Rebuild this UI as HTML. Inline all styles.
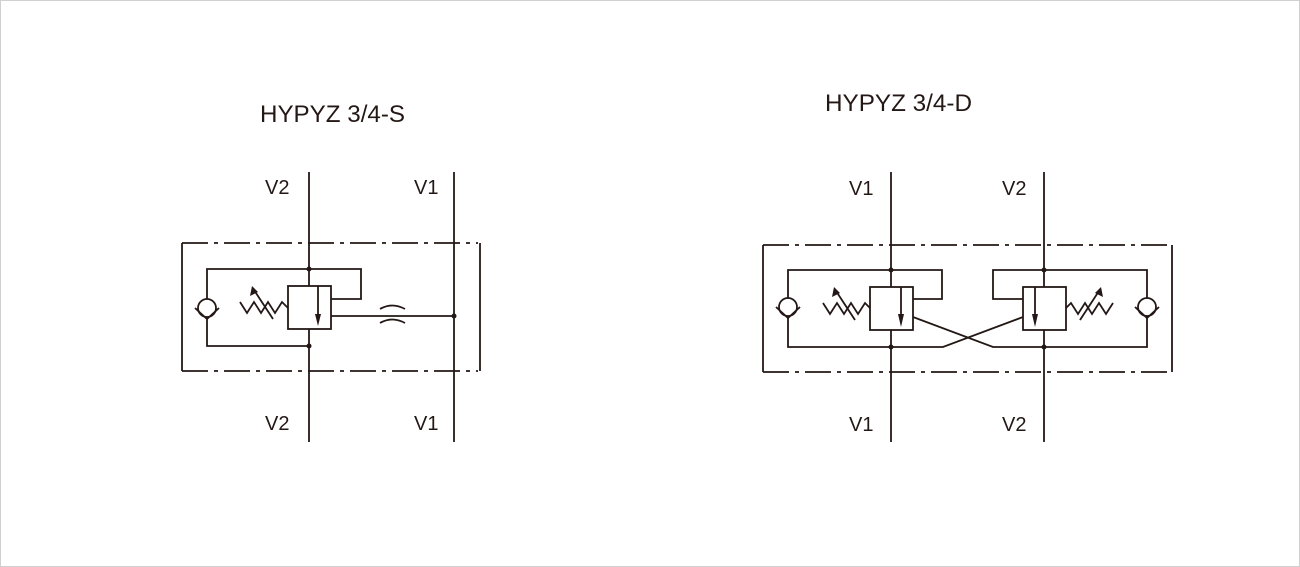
<!DOCTYPE html>
<html><head><style>html,body{margin:0;padding:0;background:#fff}svg{display:block}</style></head>
<body>
<svg width="1300" height="567" viewBox="0 0 1300 567" xmlns="http://www.w3.org/2000/svg">
<rect x="0.5" y="0.5" width="1299" height="566" fill="#fff" stroke="#d0d0d0"/>
<g font-family="Liberation Sans, Arial, sans-serif" fill="#231815">
<text x="260" y="122" font-size="24" textLength="145" lengthAdjust="spacingAndGlyphs">HYPYZ 3/4-S</text>
<text x="825" y="111" font-size="24" textLength="147" lengthAdjust="spacingAndGlyphs">HYPYZ 3/4-D</text>
<g font-size="20">
<text x="265" y="194">V2</text><text x="414" y="194">V1</text>
<text x="265" y="430">V2</text><text x="414" y="430">V1</text>
<text x="849" y="195">V1</text><text x="1002" y="195">V2</text>
<text x="849" y="431">V1</text><text x="1002" y="431">V2</text>
</g></g>
<g stroke="#231815" stroke-width="1.8" fill="none">
<!-- LEFT -->
<line x1="182" y1="243" x2="478" y2="243" stroke-dasharray="26,6,4,6"/>
<line x1="182" y1="371" x2="478" y2="371" stroke-dasharray="26,6,4,6"/>
<line x1="182" y1="243" x2="182" y2="371"/>
<line x1="480" y1="243" x2="480" y2="371"/>
<line x1="309" y1="172" x2="309" y2="442"/>
<line x1="454" y1="172" x2="454" y2="442"/>
<polyline points="207,308 207,269 361,269 361,299 331,299"/>
<polyline points="207,308 207,346 309,346"/>
<rect x="288" y="286" width="43" height="43" fill="#fff"/>
<line x1="318" y1="286" x2="318" y2="318"/>
<line x1="331" y1="316" x2="454" y2="316"/>
<path d="M380,309 Q392,302 405,309 M380,323 Q392,316 405,323"/>
<circle cx="207" cy="308" r="9" fill="#fff"/>
<polyline points="195,308 207,319 219,308"/>
<polyline points="240,302 247,313 254,302 261,313 268,302 275,313 282,302 288,308"/>
<line x1="273" y1="319" x2="254" y2="290"/>
<!-- RIGHT -->
<line x1="763" y1="245" x2="1172" y2="245" stroke-dasharray="26,6,4,6"/>
<line x1="763" y1="372" x2="1172" y2="372" stroke-dasharray="26,6,4,6"/>
<line x1="763" y1="245" x2="763" y2="372"/>
<line x1="1172" y1="245" x2="1172" y2="372"/>
<line x1="891" y1="172" x2="891" y2="442"/>
<line x1="1044" y1="172" x2="1044" y2="442"/>
<polyline points="788,307 788,270 942,270 942,299 913,299"/>
<polyline points="788,307 788,347 943,347 1023,317"/>
<polyline points="913,317 993,347 1147,347 1147,307"/>
<polyline points="1147,307 1147,270 993,270 993,299 1023,299"/>
<rect x="870" y="287" width="43" height="43" fill="#fff"/>
<line x1="901" y1="287" x2="901" y2="318"/>
<rect x="1023" y="287" width="43" height="43" fill="#fff"/>
<line x1="1035" y1="287" x2="1035" y2="318"/>
<circle cx="788" cy="307" r="9" fill="#fff"/>
<polyline points="776,307 788,318 800,307"/>
<circle cx="1147" cy="307" r="9" fill="#fff"/>
<polyline points="1135,307 1147,318 1159,307"/>
<polyline points="823,303 830,314 837,303 844,314 851,303 858,314 865,303 870,308"/>
<line x1="855" y1="320" x2="836" y2="291"/>
<polyline points="1066,308 1071,303 1078,314 1085,303 1092,314 1099,303 1106,314 1113,303"/>
<line x1="1080" y1="320" x2="1099" y2="291"/>
</g>
<g fill="#231815">
<polygon points="315,314 321,314 318,326"/>
<polygon points="898,314 904,314 901,327"/>
<polygon points="1032,314 1038,314 1035,327"/>
<polygon points="252,286 250,296 258,292"/>
<polygon points="834,287 832,297 840,293"/>
<polygon points="1101,287 1095,293 1103,297"/>
<circle cx="309" cy="269" r="2.5"/><circle cx="309" cy="346" r="2.5"/><circle cx="454" cy="316" r="2.5"/>
<circle cx="891" cy="270" r="2.5"/><circle cx="891" cy="347" r="2.5"/>
<circle cx="1044" cy="270" r="2.5"/><circle cx="1044" cy="347" r="2.5"/>
</g>
</svg>
</body></html>
